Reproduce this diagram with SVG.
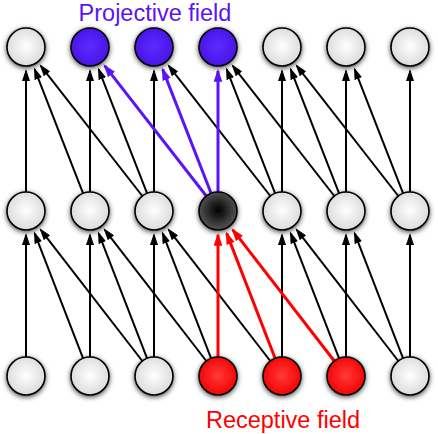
<svg xmlns="http://www.w3.org/2000/svg" width="438" height="434" viewBox="0 0 438 434">
<style>
.n{stroke:#000;stroke-width:1.6;filter:url(#sh)}
.w{fill:url(#gw)}
.b{fill:url(#gb)}
.r{fill:url(#gr)}
.k{fill:url(#gk)}
.c line{stroke:#000;stroke-width:2;marker-end:url(#ak)}
.c line.bl{stroke:#5a14f5;stroke-width:3;marker-end:url(#ab)}
.c line.rd{stroke:#ff0000;stroke-width:3;marker-end:url(#ar)}
text{font-family:"Liberation Sans",Arial,sans-serif;font-size:23.5px;text-anchor:middle}
</style>
<defs>
<filter id="sh" x="-40%" y="-40%" width="180%" height="180%">
<feDropShadow dx="0" dy="1.5" stdDeviation="2.4" flood-color="#000" flood-opacity="0.7"/>
</filter>
<radialGradient id="gw" cx="50%" cy="48%" r="55%"><stop offset="0" stop-color="#ffffff"/><stop offset="1" stop-color="#d9d9d9"/></radialGradient>
<radialGradient id="gb" cx="50%" cy="48%" r="55%"><stop offset="0" stop-color="#5a2cff"/><stop offset="1" stop-color="#4a12e6"/></radialGradient>
<radialGradient id="gr" cx="50%" cy="48%" r="55%"><stop offset="0" stop-color="#ff3a3a"/><stop offset="1" stop-color="#f20000"/></radialGradient>
<radialGradient id="gk" cx="50%" cy="48%" r="55%"><stop offset="0" stop-color="#000000"/><stop offset="1" stop-color="#5a5a5a"/></radialGradient>
<marker id="ak" viewBox="0 0 12 8" refX="10" refY="4" markerWidth="12" markerHeight="8" markerUnits="userSpaceOnUse" orient="auto"><path d="M0,0 L12,4 L0,8 z" fill="#000"/></marker>
<marker id="ab" viewBox="0 0 12 8" refX="10" refY="4" markerWidth="13" markerHeight="9" markerUnits="userSpaceOnUse" orient="auto"><path d="M0,0 L12,4 L0,8 z" fill="#5a14f5"/></marker>
<marker id="ar" viewBox="0 0 12 8" refX="10" refY="4" markerWidth="13" markerHeight="9" markerUnits="userSpaceOnUse" orient="auto"><path d="M0,0 L12,4 L0,8 z" fill="#ff0000"/></marker>
</defs>
<g id="connectors" class="c">
<line x1="26" y1="192" x2="26" y2="71"/>
<line x1="90" y1="192" x2="90" y2="71"/>
<line x1="154" y1="192" x2="154" y2="71"/>
<line x1="282" y1="192" x2="282" y2="71"/>
<line x1="346" y1="192" x2="346" y2="71"/>
<line x1="410" y1="192" x2="410" y2="71"/>
<line x1="83.1" y1="193.3" x2="34.7" y2="69.4"/>
<line x1="147.1" y1="193.3" x2="98.7" y2="69.4"/>
<line x1="275.1" y1="193.3" x2="226.7" y2="69.4"/>
<line x1="339.1" y1="193.3" x2="290.7" y2="69.4"/>
<line x1="403.1" y1="193.3" x2="354.7" y2="69.4"/>
<line x1="142.3" y1="196" x2="40.8" y2="65.9"/>
<line x1="270.3" y1="196" x2="168.8" y2="65.9"/>
<line x1="334.3" y1="196" x2="232.8" y2="65.9"/>
<line x1="398.3" y1="196" x2="296.8" y2="65.9"/>
<line x1="26" y1="357" x2="26" y2="235"/>
<line x1="90" y1="357" x2="90" y2="235"/>
<line x1="154" y1="357" x2="154" y2="235"/>
<line x1="282" y1="357" x2="282" y2="235"/>
<line x1="346" y1="357" x2="346" y2="235"/>
<line x1="410" y1="357" x2="410" y2="235"/>
<line x1="83.1" y1="358.3" x2="34.7" y2="233.4"/>
<line x1="147.1" y1="358.3" x2="98.7" y2="233.4"/>
<line x1="211.1" y1="358.3" x2="162.7" y2="233.4"/>
<line x1="339.1" y1="358.3" x2="290.7" y2="233.4"/>
<line x1="403.1" y1="358.3" x2="354.7" y2="233.4"/>
<line x1="142.3" y1="361" x2="40.8" y2="229.9"/>
<line x1="206.3" y1="361" x2="104.8" y2="229.9"/>
<line x1="270.3" y1="361" x2="168.8" y2="229.9"/>
<line x1="398.3" y1="361" x2="296.8" y2="229.9"/>
<line class="bl" x1="218" y1="192" x2="218" y2="71"/>
<line class="bl" x1="211.1" y1="193.3" x2="162.7" y2="69.4"/>
<line class="bl" x1="206.3" y1="196" x2="104.8" y2="65.9"/>
<line class="rd" x1="218" y1="357" x2="218" y2="235"/>
<line class="rd" x1="275.1" y1="358.3" x2="226.7" y2="233.4"/>
<line class="rd" x1="334.3" y1="361" x2="232.8" y2="229.9"/>
</g>
<g id="top">
<circle id="t0" class="n w" cx="26" cy="47" r="19"/>
<circle id="t1" class="n b" cx="90" cy="47" r="19"/>
<circle id="t2" class="n b" cx="154" cy="47" r="19"/>
<circle id="t3" class="n b" cx="218" cy="47" r="19"/>
<circle id="t4" class="n w" cx="282" cy="47" r="19"/>
<circle id="t5" class="n w" cx="346" cy="47" r="19"/>
<circle id="t6" class="n w" cx="410" cy="47" r="19"/>
</g>
<g id="middle">
<circle id="m0" class="n w" cx="26" cy="211" r="19"/>
<circle id="m1" class="n w" cx="90" cy="211" r="19"/>
<circle id="m2" class="n w" cx="154" cy="211" r="19"/>
<circle id="m3" class="n k" cx="218" cy="211" r="19"/>
<circle id="m4" class="n w" cx="282" cy="211" r="19"/>
<circle id="m5" class="n w" cx="346" cy="211" r="19"/>
<circle id="m6" class="n w" cx="410" cy="211" r="19"/>
</g>
<g id="bottom">
<circle id="b0" class="n w" cx="26" cy="376" r="19"/>
<circle id="b1" class="n w" cx="90" cy="376" r="19"/>
<circle id="b2" class="n w" cx="154" cy="376" r="19"/>
<circle id="b3" class="n r" cx="218" cy="376" r="19"/>
<circle id="b4" class="n r" cx="282" cy="376" r="19"/>
<circle id="b5" class="n r" cx="346" cy="376" r="19"/>
<circle id="b6" class="n w" cx="410" cy="376" r="19"/>
</g>
<g id="labels">
<text x="155" y="21" fill="#5a14f5">Projective field</text>
<text x="283" y="428" fill="#ff0000">Receptive field</text>
</g>
</svg>
